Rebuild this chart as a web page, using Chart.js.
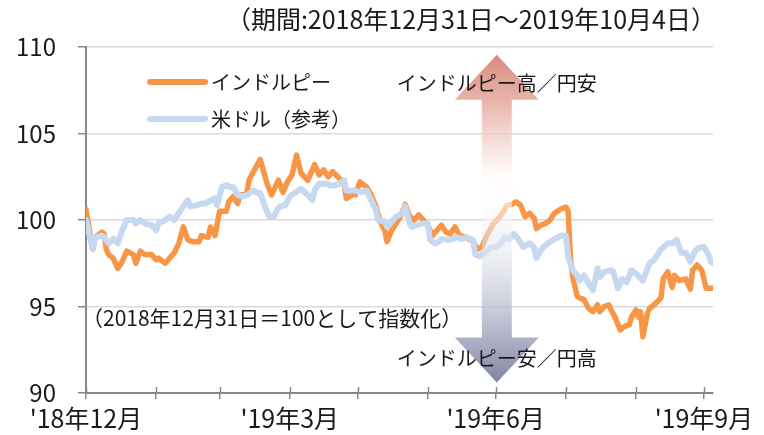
<!DOCTYPE html>
<html lang="ja">
<head>
<meta charset="utf-8">
<script src="https://cdn.jsdelivr.net/npm/chart.js@4"></script>
<style>
  html, body { margin: 0; padding: 0; background: #fff; }
  #wrap { width: 764px; height: 435px; }
</style>
</head>
<body>
<div id="wrap"><canvas id="chart" width="764" height="435"></canvas></div>
<script>
// 日数は2018年12月31日からの経過日数
const rupeeDays = [
    0, 3, 4, 7, 8, 9, 10, 12, 14, 16,
    18, 21, 22, 24, 26, 29, 31, 32, 35, 37,
    39, 41, 43, 45, 47, 50, 51, 54, 55, 57,
    59, 62, 63, 65, 67, 68, 71, 72, 74, 77,
    80, 82, 85, 87, 89, 91, 93, 95, 98, 101,
    103, 105, 107, 109, 112, 114, 115, 118, 119, 121,
    124, 126, 128, 130, 132, 133, 135, 137, 139, 141,
    143, 145, 147, 149, 151, 153, 155, 157, 159, 161,
    163, 165, 168, 171, 173, 175, 177, 180, 183, 186,
    188, 190, 192, 194, 196, 198, 199, 201, 203, 205,
    207, 210, 212, 213, 214, 215, 217, 218, 220, 222,
    224, 226, 227, 229, 231, 232, 234, 236, 238, 240,
    241, 243, 244, 245, 246, 248, 249, 251, 254, 255,
    257, 259, 260, 262, 265, 267, 268, 270, 272, 274,
    277
];
const rupeeIdx = [
    100.6, 98.3, 99.0, 99.3, 99.2, 98.3, 98.0, 97.8, 97.2, 97.6,
    98.2, 98.0, 97.5, 98.2, 98.0, 98.0, 97.7, 97.8, 97.5, 97.8,
    98.1, 98.65, 99.6, 98.85, 98.75, 98.75, 99.1, 99.0, 99.6, 99.1,
    100.5, 100.5, 101.05, 101.35, 100.95, 101.45, 101.5, 102.3, 102.8, 103.5,
    102.1, 101.45, 102.3, 101.6, 102.2, 102.6, 103.75, 102.7, 102.3, 103.2,
    102.6, 102.9, 102.5, 102.8, 102.4, 102.1, 101.25, 101.5, 101.45, 102.2,
    101.9, 101.45, 100.8, 99.9, 99.4, 98.75, 99.4, 99.8, 100.2, 100.9,
    100.2, 100.0, 100.3, 100.0, 99.7, 99.1, 99.4, 99.7, 99.3, 99.2,
    99.6, 99.1, 99.0, 98.75, 98.3, 98.45, 99.1, 99.8, 100.2, 100.85,
    100.9, 101.05, 100.85, 100.2, 100.4, 100.1, 99.5, 99.7, 99.8, 100.0,
    100.4, 100.65, 100.75, 100.5, 97.9, 96.7, 95.6, 95.5, 95.4, 94.9,
    94.7, 95.1, 94.7, 95.0, 95.1, 94.8, 94.3, 93.65, 93.85, 93.95,
    94.4, 94.8, 94.4, 94.7, 93.25, 94.6, 94.9, 95.1, 95.5, 96.6,
    97.0, 96.1, 96.8, 96.5, 96.6, 96.0, 97.1, 97.4, 97.1, 96.05,
    96.05
];

const usdDays = [
    0, 3, 4, 7, 8, 10, 12, 14, 16, 18,
    21, 22, 24, 26, 29, 31, 32, 35, 37, 39,
    41, 43, 45, 46, 49, 51, 53, 54, 57, 58,
    60, 62, 64, 65, 67, 69, 71, 74, 76, 77,
    79, 81, 83, 85, 86, 88, 90, 92, 95, 98,
    100, 101, 103, 106, 108, 110, 112, 114, 115, 117,
    119, 121, 124, 126, 128, 129, 132, 133, 135, 137,
    140, 141, 143, 144, 146, 149, 151, 152, 154, 156,
    157, 160, 162, 164, 166, 168, 171, 172, 174, 176,
    179, 181, 183, 185, 187, 189, 191, 193, 196, 198,
    199, 201, 203, 205, 207, 210, 212, 213, 215, 217,
    218, 220, 222, 224, 226, 227, 229, 232, 233, 235,
    237, 239, 241, 243, 246, 249, 251, 254, 257, 259,
    261, 263, 265, 267, 269, 271, 273, 275, 276, 277
];
const usdIdx = [
    100.0, 98.3, 99.0, 99.1, 99.0, 98.65, 98.9, 98.65, 99.4, 100.0,
    100.0, 99.8, 100.0, 99.8, 99.7, 99.4, 99.8, 100.0, 100.2, 100.0,
    100.4, 100.8, 101.15, 100.8, 100.85, 100.95, 100.95, 101.05, 101.25, 100.85,
    101.9, 102.0, 101.9, 101.9, 101.45, 101.35, 101.45, 101.7, 101.55, 101.55,
    100.8, 100.2, 100.2, 100.7, 100.8, 100.85, 101.35, 101.55, 101.8, 101.45,
    101.15, 101.7, 102.1, 102.1, 102.0, 102.0, 102.1, 102.3, 101.7, 101.7,
    101.7, 101.6, 101.7, 101.15, 100.6, 100.0, 99.9, 99.6, 99.9, 100.2,
    100.4, 100.8, 99.8, 99.6, 99.7, 99.8, 99.8, 98.85, 98.65, 98.75,
    98.9, 98.85, 98.9, 99.0, 98.9, 99.0, 98.85, 98.0, 97.9, 98.1,
    98.4, 98.45, 98.6, 99.0, 98.9, 99.2, 98.9, 98.45, 98.65, 98.4,
    97.8, 98.27, 98.55, 98.75, 98.9, 99.1, 99.1, 97.9, 97.1, 96.8,
    96.5, 96.8, 96.35, 95.95, 97.2, 96.7, 97.0, 97.1, 97.0, 96.05,
    96.6, 96.4, 97.1, 96.9, 96.5, 97.5, 97.7, 98.3, 98.65, 98.65,
    98.85, 98.1, 98.1, 97.6, 98.2, 98.4, 98.45, 98.0, 97.6, 97.5
];

// 月末の目盛りとラベル
const monthEnds = [0, 31, 59, 90, 120, 151, 181, 212, 243, 273];
const labelDays = [0, 90, 181, 273];
const labelTexts = ["'18年12月", "'19年3月", "'19年6月", "'19年9月"];
const lastDay = 277;

const seriesNames = ['インドルピー', '米ドル（参考）'];
const seriesColors = ['#f79646', '#c6d9f1'];

const FONT = "'Noto Sans CJK JP', 'Noto Sans', sans-serif";
const toPoints = (days, vals) => days.map((d, i) => ({ x: d, y: vals[i] }));

// 両方向の矢印（データ座標で位置を決める）
const arrowPlugin = {
    id: 'arrow',
    afterDatasetsDraw(chart) {
        const { ctx } = chart;
        const xs = chart.scales.x, ys = chart.scales.y;
        const cx = xs.getPixelForValue(181.5);
        const top = ys.getPixelForValue(109.55);
        const bot = ys.getPixelForValue(90.6);
        const head = 45, headW = 42, shaftW = 15;
        const g = ctx.createLinearGradient(0, top, 0, bot);
        g.addColorStop(0, 'rgba(214,128,112,0.92)');
        g.addColorStop(0.14, 'rgba(226,162,148,0.8)');
        g.addColorStop(0.36, 'rgba(255,248,248,0.72)');
        g.addColorStop(0.45, 'rgba(255,255,255,0.6)');
        g.addColorStop(0.6, 'rgba(226,228,238,0.5)');
        g.addColorStop(0.85, 'rgba(160,163,188,0.8)');
        g.addColorStop(1, 'rgba(118,122,152,0.92)');
        ctx.save();
        ctx.fillStyle = g;
        ctx.beginPath();
        ctx.moveTo(cx, top);
        ctx.lineTo(cx + headW, top + head);
        ctx.lineTo(cx + shaftW, top + head);
        ctx.lineTo(cx + shaftW, bot - head);
        ctx.lineTo(cx + headW, bot - head);
        ctx.lineTo(cx, bot);
        ctx.lineTo(cx - headW, bot - head);
        ctx.lineTo(cx - shaftW, bot - head);
        ctx.lineTo(cx - shaftW, top + head);
        ctx.lineTo(cx - headW, top + head);
        ctx.closePath();
        ctx.fill();
        ctx.restore();
    }
};

// 注記・凡例・x軸の目盛り線
const notesPlugin = {
    id: 'notes',
    afterDraw(chart) {
        const { ctx, chartArea } = chart;
        const xs = chart.scales.x, ys = chart.scales.y;
        ctx.save();

        // x軸の目盛りを軸の上側にも伸ばす
        ctx.strokeStyle = '#888';
        ctx.lineWidth = 1.5;
        monthEnds.forEach(d => {
            const px = Math.round(xs.getPixelForValue(d)) + 0.5;
            ctx.beginPath();
            ctx.moveTo(px, chartArea.bottom - 6);
            ctx.lineTo(px, chartArea.bottom);
            ctx.stroke();
        });

        ctx.fillStyle = '#1a1a1a';
        ctx.textBaseline = 'middle';

        ctx.font = '25px ' + FONT;
        ctx.textAlign = 'right';
        ctx.fillText('（期間:2018年12月31日～2019年10月4日）', 716, 19);

        // 凡例
        ctx.textAlign = 'left';
        ctx.font = '20px ' + FONT;
        ctx.lineCap = 'round';
        [82, 119].forEach((y, i) => {
            ctx.strokeStyle = seriesColors[i];
            ctx.lineWidth = 6;
            ctx.beginPath();
            ctx.moveTo(150, y);
            ctx.lineTo(205, y);
            ctx.stroke();
            ctx.fillText(seriesNames[i], 211, y);
        });

        const cx = xs.getPixelForValue(181.5);
        ctx.textAlign = 'center';
        ctx.fillText('インドルピー高／円安', cx, ys.getPixelForValue(107.9));
        ctx.fillText('インドルピー安／円高', cx, ys.getPixelForValue(92.0));

        ctx.textAlign = 'left';
        ctx.font = '21px ' + FONT;
        ctx.fillText('（2018年12月31日＝100として指数化）', 82, ys.getPixelForValue(94.35));
        ctx.restore();
    }
};

new Chart(document.getElementById('chart'), {
    type: 'line',
    data: {
        datasets: [
            {
                label: seriesNames[0],
                data: toPoints(rupeeDays, rupeeIdx),
                borderColor: seriesColors[0],
                borderWidth: 5.5,
                order: 1
            },
            {
                label: seriesNames[1],
                data: toPoints(usdDays, usdIdx),
                borderColor: seriesColors[1],
                borderWidth: 6,
                order: 0
            }
        ]
    },
    options: {
        responsive: false,
        animation: false,
        devicePixelRatio: 1,
        layout: { padding: { left: 0, top: 47, right: 51, bottom: 0 } },
        elements: {
            point: { radius: 0 },
            line: { tension: 0, borderJoinStyle: 'round', borderCapStyle: 'round' }
        },
        plugins: {
            legend: { display: false },
            tooltip: { enabled: false }
        },
        scales: {
            x: {
                type: 'linear',
                min: 0,
                max: lastDay,
                afterBuildTicks: scale => {
                    scale.ticks = monthEnds.map(v => ({ value: v }));
                },
                afterFit: scale => { scale.height = 42; },
                border: { color: '#888', width: 2 },
                grid: { drawOnChartArea: false, color: '#888', lineWidth: 1.5, tickLength: 6 },
                ticks: {
                    autoSkip: false,
                    maxRotation: 0,
                    padding: 4,
                    color: '#1a1a1a',
                    font: { family: FONT, size: 25 },
                    callback: v => {
                        const i = labelDays.indexOf(v);
                        return i >= 0 ? labelTexts[i] : '';
                    }
                }
            },
            y: {
                min: 90,
                max: 110,
                afterFit: scale => { scale.width = 86; },
                border: { color: '#888', width: 2 },
                grid: {
                    color: c => c.tick && c.tick.value === 90 ? 'rgba(0,0,0,0)' : '#d9d9d9',
                    lineWidth: 1.5,
                    tickColor: '#888',
                    tickLength: 8
                },
                ticks: {
                    stepSize: 5,
                    padding: 22,
                    color: '#1a1a1a',
                    font: { family: FONT, size: 24 }
                }
            }
        }
    },
    plugins: [arrowPlugin, notesPlugin]
});
</script>
</body>
</html>
